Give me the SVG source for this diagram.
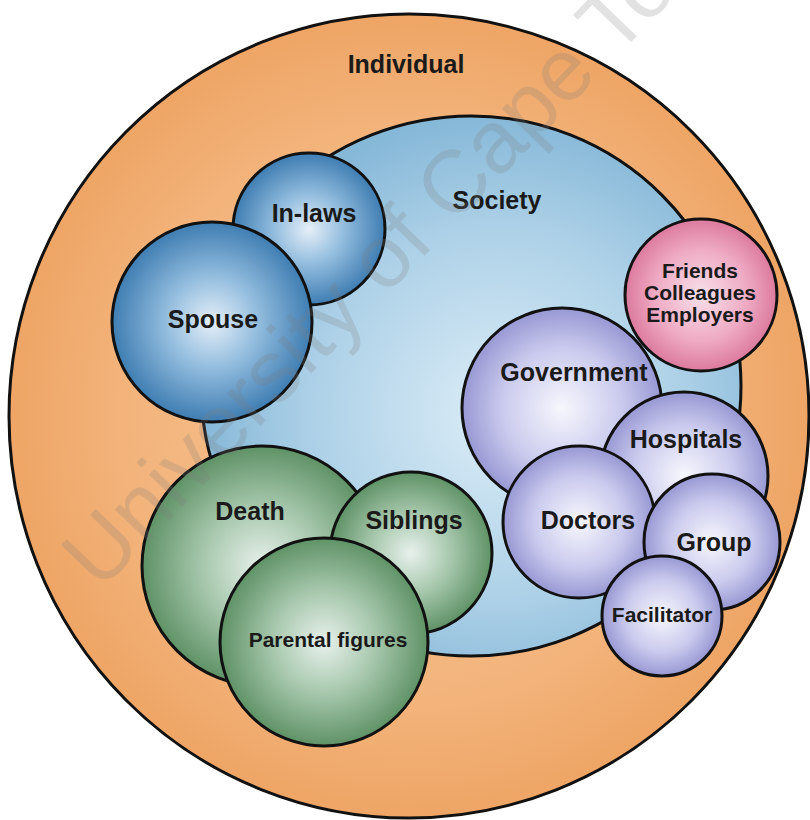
<svg xmlns="http://www.w3.org/2000/svg" width="810" height="820" viewBox="0 0 810 820">
<defs>
<radialGradient id="gOrange" cx="0.5" cy="0.5" r="0.5"><stop offset="0" stop-color="#F7C595"/><stop offset="0.7" stop-color="#F3B47C"/><stop offset="1" stop-color="#EEA565"/></radialGradient>
<radialGradient id="gSociety" cx="0.55" cy="0.55" r="0.55"><stop offset="0" stop-color="#DCEDF7"/><stop offset="0.6" stop-color="#AFD2E8"/><stop offset="1" stop-color="#86B8D8"/></radialGradient>
<radialGradient id="gBlue" cx="0.5" cy="0.5" r="0.5"><stop offset="0" stop-color="#E6EFF8"/><stop offset="0.45" stop-color="#94BEDF"/><stop offset="1" stop-color="#3F7DB2"/></radialGradient>
<radialGradient id="gGreen" cx="0.5" cy="0.5" r="0.5"><stop offset="0" stop-color="#E8F1EC"/><stop offset="0.5" stop-color="#A6C7AC"/><stop offset="1" stop-color="#5F9266"/></radialGradient>
<radialGradient id="gPink" cx="0.5" cy="0.5" r="0.5"><stop offset="0" stop-color="#F8E0EA"/><stop offset="0.6" stop-color="#EFABC4"/><stop offset="1" stop-color="#DC7A9E"/></radialGradient>
<radialGradient id="gLav" cx="0.5" cy="0.5" r="0.5"><stop offset="0" stop-color="#F7F7FD"/><stop offset="0.6" stop-color="#CACAEE"/><stop offset="1" stop-color="#9898D4"/></radialGradient>
</defs>
<style>
circle, ellipse { stroke: #111; stroke-width: 3; }
text { font-family: "Liberation Sans", Arial, sans-serif; font-weight: bold; fill: #1a1a1a; text-anchor: middle; }
.big { font-size: 25px; }
.mid { font-size: 21px; }
.wm { font-family: "Liberation Sans", Arial, sans-serif; font-weight: normal; font-size: 88px; fill: #7a7a7a; fill-opacity: 0.22; text-anchor: start; }
</style>
<rect width="810" height="820" fill="#ffffff"/>
<g id="individual"><ellipse cx="409" cy="416" rx="400" ry="402" fill="url(#gOrange)"/><text class="big" x="406" y="73">Individual</text></g>
<g id="society"><circle cx="471" cy="386" r="270" fill="url(#gSociety)"/><text class="big" x="497" y="209">Society</text></g>
<g id="in-laws"><circle cx="309" cy="229" r="76" fill="url(#gBlue)"/><text class="big" x="314" y="222">In-laws</text></g>
<g id="spouse"><circle cx="212" cy="322" r="100" fill="url(#gBlue)"/><text class="big" x="213" y="328">Spouse</text></g>
<g id="death"><circle cx="262" cy="566" r="120" fill="url(#gGreen)"/><text class="big" x="250" y="520">Death</text></g>
<g id="siblings"><circle cx="411" cy="553" r="81" fill="url(#gGreen)"/><text class="big" x="414" y="529">Siblings</text></g>
<g id="parental-figures"><circle cx="324" cy="642" r="104" fill="url(#gGreen)"/><text class="mid" x="328" y="647">Parental figures</text></g>
<g id="friends"><circle cx="701" cy="295" r="76" fill="url(#gPink)"/><text class="mid" x="700" y="278">Friends</text><text class="mid" x="700" y="300">Colleagues</text><text class="mid" x="700" y="322">Employers</text></g>
<g id="government"><circle cx="562" cy="408" r="100" fill="url(#gLav)"/><text class="big" x="574" y="381">Government</text></g>
<g id="hospitals"><circle cx="684" cy="476" r="84" fill="url(#gLav)"/><text class="big" x="686" y="448">Hospitals</text></g>
<g id="doctors"><circle cx="579" cy="522" r="76" fill="url(#gLav)"/><text class="big" x="588" y="529">Doctors</text></g>
<g id="group"><circle cx="712" cy="542" r="68" fill="url(#gLav)"/><text class="big" x="714" y="551">Group</text></g>
<g id="facilitator"><circle cx="662" cy="616" r="60" fill="url(#gLav)"/><text class="mid" x="662" y="622">Facilitator</text></g>
<g id="connectors"></g>
<g id="watermark"><text class="wm" transform="translate(100 592) rotate(-46)">University of Cape Town</text></g>
</svg>
